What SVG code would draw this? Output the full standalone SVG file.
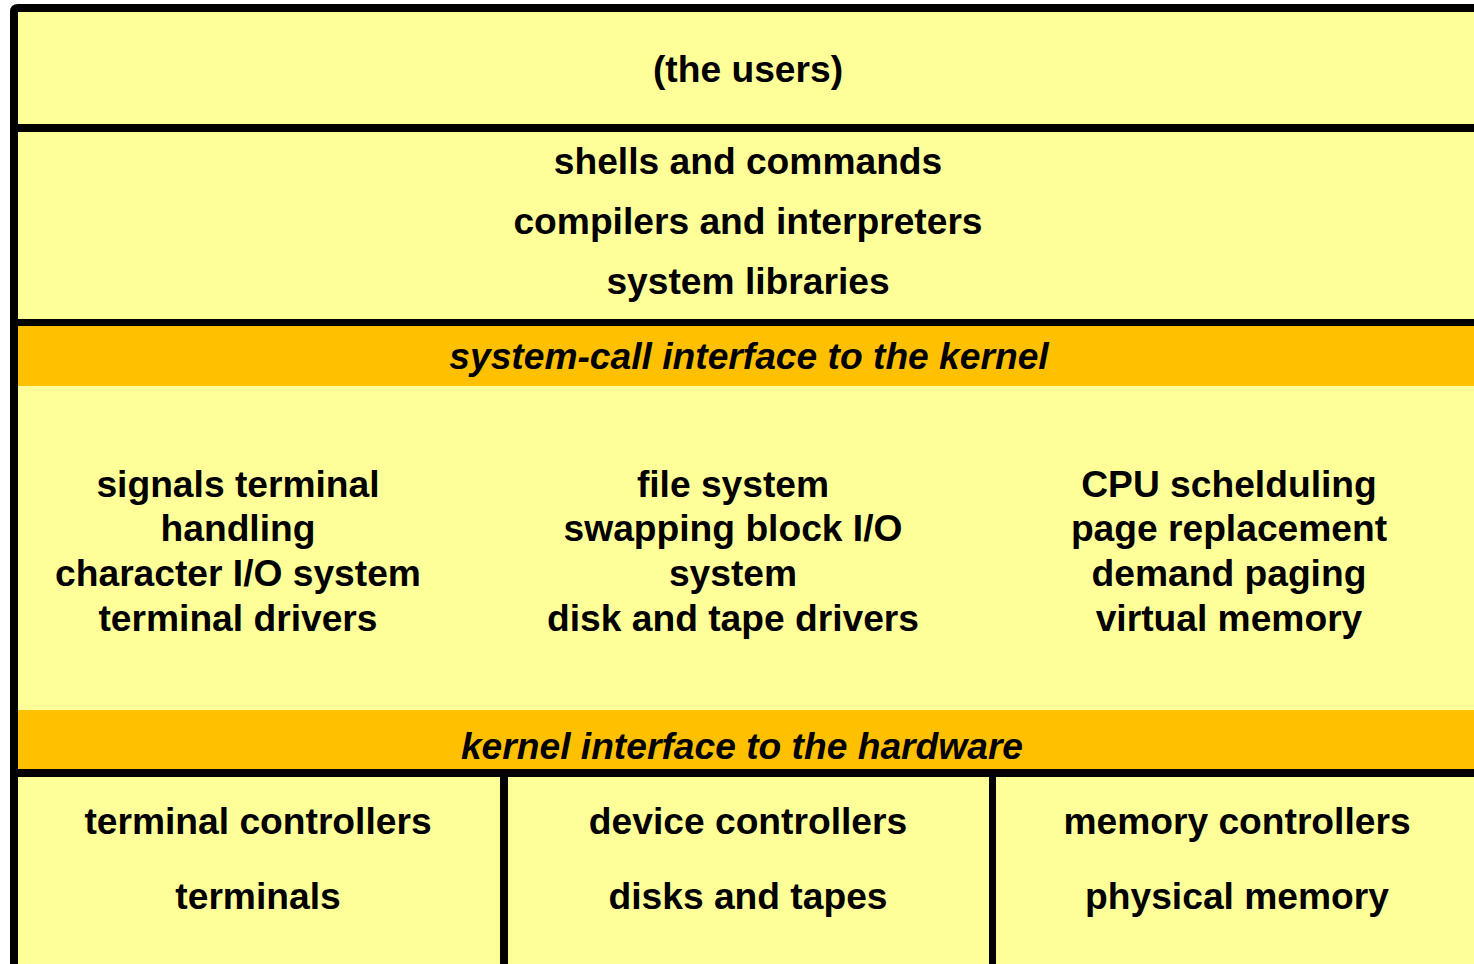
<svg xmlns="http://www.w3.org/2000/svg" width="1474" height="964" viewBox="0 0 1474 964">
<style>
.t{font-family:"Liberation Sans",Arial,sans-serif;font-weight:bold;font-size:37.2px;fill:#000;text-anchor:middle}
.i{font-style:italic}
.band{fill:#FFC000}
.rule{fill:#000}
</style>
<rect width="1474" height="964" fill="#fff"/>
<g id="frame">
<rect x="14" y="8" width="1470" height="970" fill="#FFFF99"/>
<path d="M14,972 V12 Q14,8 18,8 H1480" fill="none" stroke="#000" stroke-width="8"/>
</g>
<g id="users">
<text class="t" x="748" y="82">(the users)</text>
</g>
<rect class="rule" x="18" y="124" width="1456" height="8"/>
<g id="shells">
<text class="t" x="748" y="174">shells and commands</text>
<text class="t" x="748" y="234">compilers and interpreters</text>
<text class="t" x="748" y="294">system libraries</text>
</g>
<rect class="rule" x="18" y="319" width="1456" height="7"/>
<g id="syscall">
<rect class="band" x="18" y="326" width="1456" height="60"/>
<text class="t i" x="749" y="369">system-call interface to the kernel</text>
</g>
<g id="kernel-left">
<text class="t" x="238" y="497">signals terminal</text>
<text class="t" x="238" y="541">handling</text>
<text class="t" x="238" y="586">character I/O system</text>
<text class="t" x="238" y="631">terminal drivers</text>
</g>
<g id="kernel-mid">
<text class="t" x="733" y="497">file system</text>
<text class="t" x="733" y="541">swapping block I/O</text>
<text class="t" x="733" y="586">system</text>
<text class="t" x="733" y="631">disk and tape drivers</text>
</g>
<g id="kernel-right">
<text class="t" x="1229" y="497">CPU schelduling</text>
<text class="t" x="1229" y="541">page replacement</text>
<text class="t" x="1229" y="586">demand paging</text>
<text class="t" x="1229" y="631">virtual memory</text>
</g>
<g id="hwif">
<rect class="band" x="18" y="710" width="1456" height="59"/>
<text class="t i" x="742" y="759">kernel interface to the hardware</text>
</g>
<rect class="rule" x="18" y="769" width="1456" height="8"/>
<rect class="rule" x="500" y="777" width="8" height="187"/>
<rect class="rule" x="989" y="777" width="7" height="187"/>
<g id="hw-left">
<text class="t" x="258" y="834">terminal controllers</text>
<text class="t" x="258" y="909">terminals</text>
</g>
<g id="hw-mid">
<text class="t" x="748" y="834">device controllers</text>
<text class="t" x="748" y="909">disks and tapes</text>
</g>
<g id="hw-right">
<text class="t" x="1237" y="834">memory controllers</text>
<text class="t" x="1237" y="909">physical memory</text>
</g>
</svg>
